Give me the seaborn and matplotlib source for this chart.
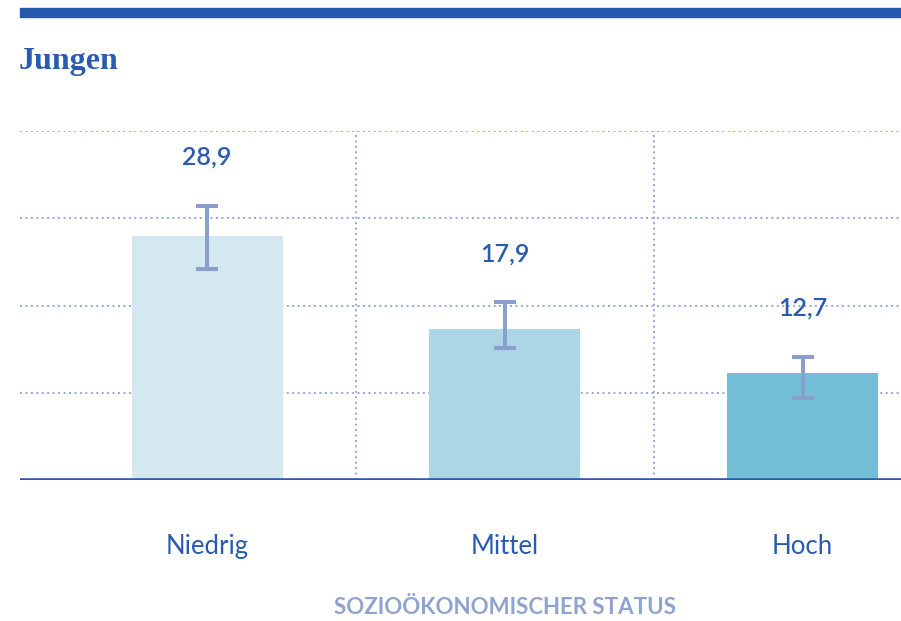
import matplotlib
matplotlib.use("Agg")
import matplotlib.pyplot as plt
import numpy as np
import pandas as pd
import seaborn as sns

sns.set_theme(style="white")
plt.rcParams["font.family"] = ["Lato", "DejaVu Sans"]

TITLE = "Jungen"
X_LABEL = "SOZIOÖKONOMISCHER STATUS"
CATEGORIES = ["Niedrig", "Mittel", "Hoch"]
VALUES = [28.9, 17.9, 12.7]
CI_LOWER = [25.0, 15.6, 9.7]
CI_UPPER = [32.5, 21.1, 14.6]
Y_MAX = 41.4

BAR_COLORS = ["#d3e8f1", "#acd5e6", "#74bfd8"]
DARK_BLUE = "#2a5bb0"
ERR_COLOR = "#8b9fcc"
GRID_COLOR = "#93a8da"
LABEL_GREY = "#8fa3cf"


def main() -> None:
    df = pd.DataFrame({"status": CATEGORIES, "value": VALUES})

    fig = plt.figure(figsize=(9.01, 6.21), dpi=100)
    ax = fig.add_axes([20 / 901, 141 / 621, 881 / 901, 349 / 621])

    sns.barplot(
        data=df, x="status", y="value", hue="status", palette=BAR_COLORS,
        order=CATEGORIES, hue_order=CATEGORIES, legend=False, saturation=1,
        width=0.507, errorbar=None, ax=ax,
    )
    for p in ax.patches:
        p.set_zorder(3)
        p.set_edgecolor("none")

    x = np.arange(len(CATEGORIES))
    vals = np.array(VALUES)
    yerr = np.vstack([vals - np.array(CI_LOWER), np.array(CI_UPPER) - vals])
    ax.errorbar(x, vals, yerr=yerr, fmt="none", ecolor=ERR_COLOR,
                elinewidth=2.9, capsize=8, capthick=2.9, zorder=4)

    ax.set_xlim(-0.628, 2.33)
    ax.set_ylim(0, Y_MAX)

    # dotted grid (four equal bands)
    for t in np.linspace(0, Y_MAX, 5)[1:]:
        ax.axhline(t, color=GRID_COLOR, linestyle=(0, (1, 1.8)), linewidth=1.4, zorder=1)
    for xv in [0.5, 1.5]:
        ax.axvline(xv, color=GRID_COLOR, linestyle=(0, (1, 1.8)), linewidth=1.4, zorder=1)
    ax.axhline(0, color=DARK_BLUE, linewidth=2.6, zorder=5)

    for i, up in enumerate(CI_UPPER):
        ax.annotate(f"{VALUES[i]:.1f}".replace(".", ","), xy=(i, up), xytext=(0, 35),
                    textcoords="offset points", ha="center", va="center",
                    fontsize=18, color=DARK_BLUE, fontweight="semibold")

    for s in ax.spines.values():
        s.set_visible(False)
    ax.set_yticks([])
    ax.set_ylabel("")
    ax.set_xlabel("")
    ax.set_xticks(x)
    ax.set_xticklabels(CATEGORIES, fontsize=18.5, color=DARK_BLUE)
    ax.tick_params(axis="x", length=0, pad=39)

    fig.text(505 / 901, 13 / 621, X_LABEL, fontsize=16, fontweight="bold",
             color=LABEL_GREY, ha="center", va="center")

    # header band and title
    fig.add_artist(plt.Rectangle((20 / 901, 604 / 621), 881 / 901, 9 / 621,
                                 transform=fig.transFigure, color="#2558ac"))
    fig.text(19 / 901, 560 / 621, TITLE, fontsize=23, fontweight="bold",
             color=DARK_BLUE, family=["Liberation Serif", "DejaVu Serif"],
             va="center", ha="left")

    fig.savefig("out.png", dpi=100)
    plt.close(fig)


if __name__ == "__main__":
    main()
